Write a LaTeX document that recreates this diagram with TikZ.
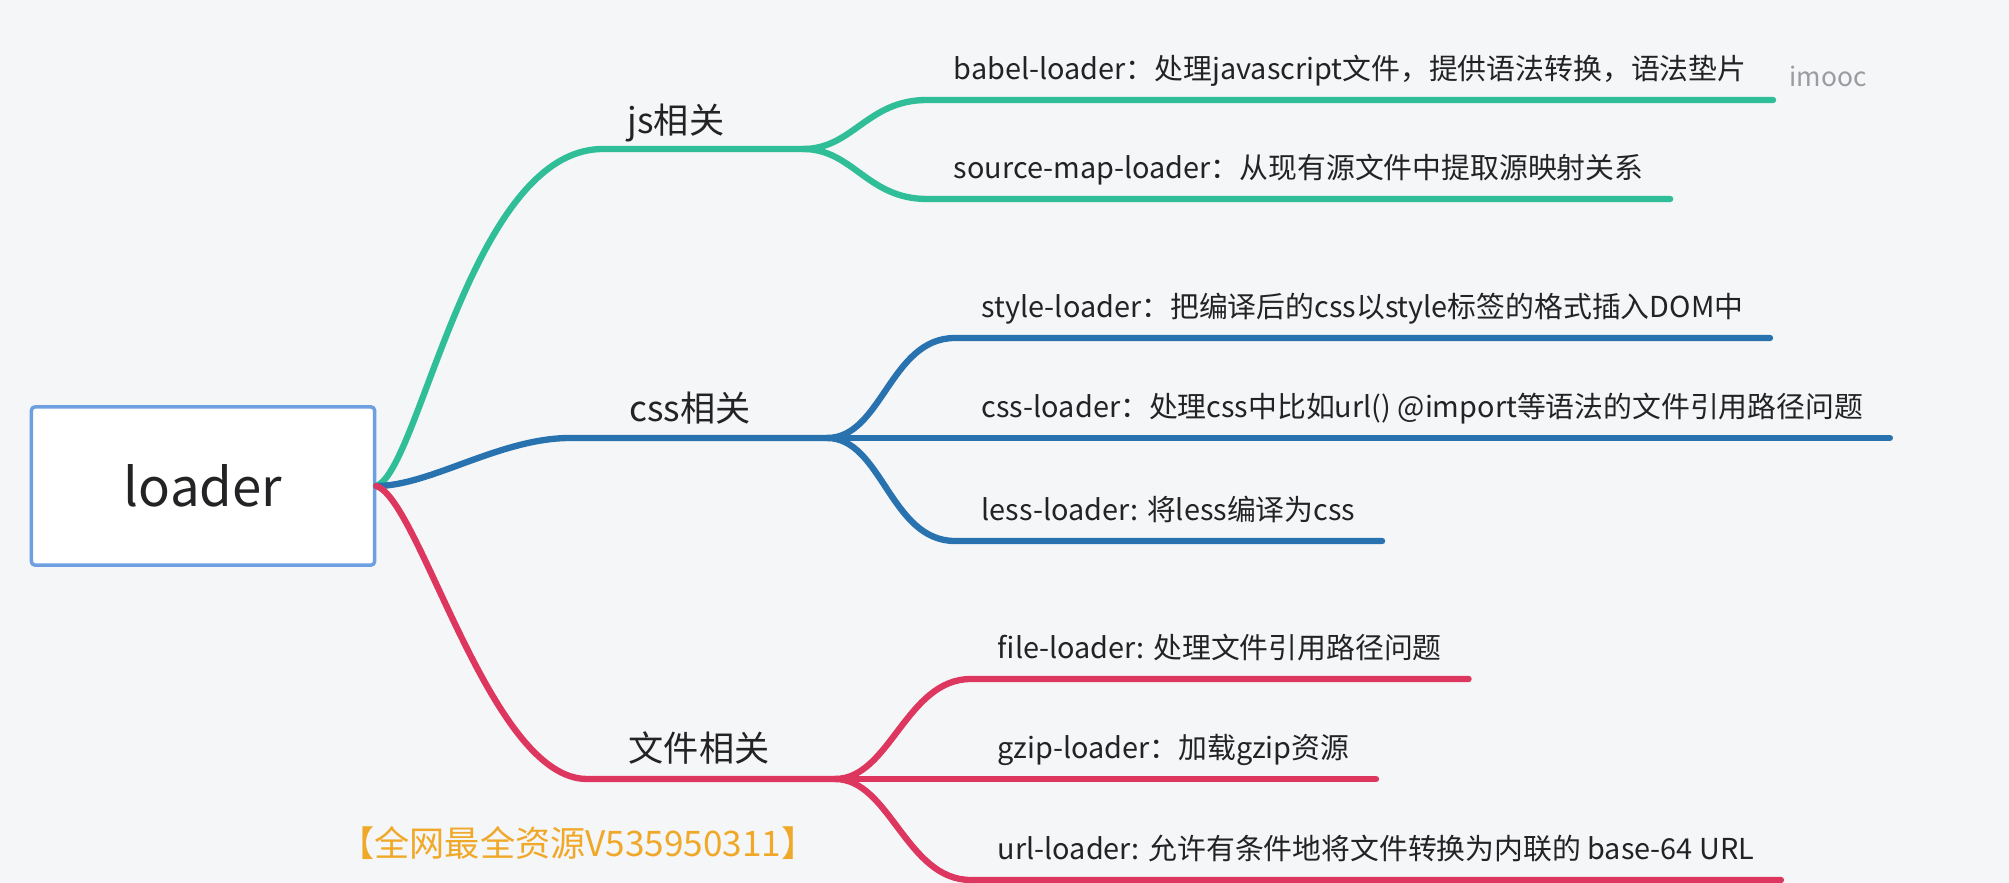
\documentclass[tikz,border=0pt]{standalone}
\usepackage{fontspec}
\setmainfont{Noto Sans CJK SC}

\definecolor{bgcol}{RGB}{245,246,248}
\definecolor{ink}{RGB}{35,35,38}
\definecolor{boxblue}{RGB}{110,160,225}
\definecolor{jsgreen}{RGB}{48,190,152}
\definecolor{cssblue}{RGB}{40,115,175}
\definecolor{filered}{RGB}{222,55,95}
\definecolor{markgray}{RGB}{155,155,160}
\definecolor{adorange}{RGB}{240,168,40}

\begin{document}
\begin{tikzpicture}[x=0.01cm, y=-0.01cm,
  rootbox/.style={draw=boxblue, line width=1pt, fill=white, rounded corners=1pt,
    minimum width=3.43cm, minimum height=1.58cm,
    font=\fontsize{15}{18}\selectfont, text=ink},
  topic/.style={font=\fontsize{10}{12}\selectfont, text=ink},
  leaf/.style={anchor=south west, font=\fontsize{8.2}{10}\selectfont, text=ink,
    inner xsep=0.26cm, inner ysep=0.13cm, text height=6.5pt, text depth=2pt},
  branch/.style={line width=1.8pt, line cap=round},
]
  % Background and page size
  \fill[bgcol] (0,0) rectangle (2009,883);
  \useasboundingbox (0,0) rectangle (2009,883);

  % Root
  \node[rootbox] (loader) at (203,486) {loader};

  % Topics
  \node[topic] (js) at (676,123) {js相关};
  \node[topic] (css) at (690,408) {css相关};
  \node[topic] (file) at (699,748) {文件相关};

  % Where the topic lines start and split
  \coordinate (jsL) at (603,149);
  \coordinate (jsS) at (803,149);
  \coordinate (cssL) at (570,438);
  \coordinate (cssS) at (827,438);
  \coordinate (fileL) at (587,779);
  \coordinate (fileS) at (835,779);

  % Leaves
  \node[leaf] (babel) at (927,100) {babel-loader：处理javascript文件，提供语法转换，语法垫片};
  \node[leaf] (srcmap) at (927,199) {source-map-loader：从现有源文件中提取源映射关系};
  \node[leaf] (style) at (955,338) {style-loader：把编译后的css以style标签的格式插入DOM中};
  \node[leaf] (cssld) at (955,438) {css-loader：处理css中比如url() @import等语法的文件引用路径问题};
  \node[leaf] (less) at (955,541) {less-loader: 将less编译为css};
  \node[leaf] (fileld) at (971,679) {file-loader: 处理文件引用路径问题};
  \node[leaf] (gzip) at (971,779) {gzip-loader：加载gzip资源};
  \node[leaf] (url) at (971,880) {url-loader: 允许有条件地将文件转换为内联的 base-64 URL};

  % js branch
  \draw[branch, jsgreen] (loader.east) .. controls (420,470) and (470,149) .. (jsL) -- (jsS);
  \draw[branch, jsgreen] (jsS) .. controls +(50,0) and +(-60,0) .. (babel.south west) -- (babel.south east);
  \draw[branch, jsgreen] (jsS) .. controls +(50,0) and +(-60,0) .. (srcmap.south west) -- (srcmap.south east);

  % css branch
  \draw[branch, cssblue] (loader.east) .. controls (430,486) and (500,438) .. (cssL) -- (cssS);
  \draw[branch, cssblue] (cssS) .. controls +(55,0) and +(-65,0) .. (style.south west) -- (style.south east);
  \draw[branch, cssblue] (cssS) -- (cssld.south west) -- (cssld.south east);
  \draw[branch, cssblue] (cssS) .. controls +(55,0) and +(-65,0) .. (less.south west) -- (less.south east);

  % file branch
  \draw[branch, filered] (loader.east) .. controls (420,500) and (490,779) .. (fileL) -- (fileS);
  \draw[branch, filered] (fileS) .. controls +(55,0) and +(-65,0) .. (fileld.south west) -- (fileld.south east);
  \draw[branch, filered] (fileS) -- (gzip.south west) -- (gzip.south east);
  \draw[branch, filered] (fileS) .. controls +(55,0) and +(-65,0) .. (url.south west) -- (url.south east);

  % Marks on the screenshot
  \node[text=markgray, font=\fontsize{7.5}{9}\selectfont] (imooc) at (1828,76) {imooc};
  \node[text=adorange, font=\fontsize{10}{12}\selectfont] (ad) at (578,843) {【全网最全资源V535950311】};
\end{tikzpicture}
\end{document}
